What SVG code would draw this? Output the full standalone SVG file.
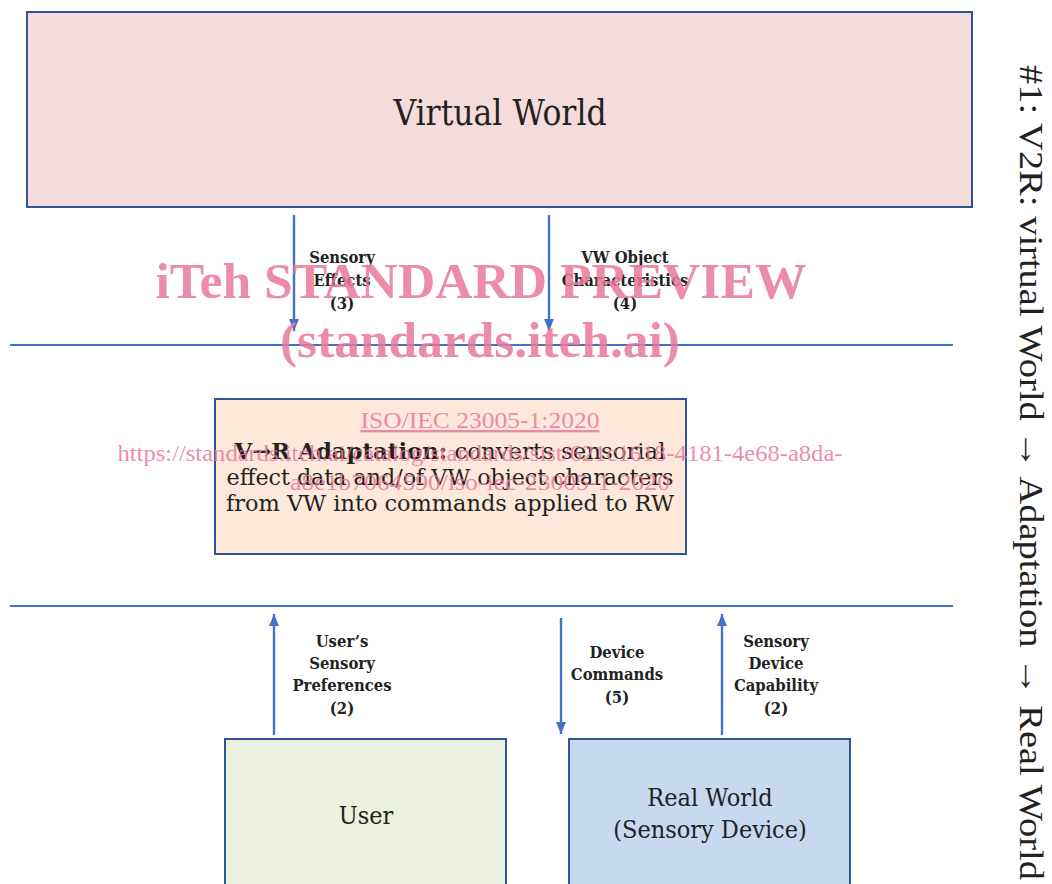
<svg xmlns="http://www.w3.org/2000/svg" width="1052" height="884" viewBox="0 0 1052 884">
  <style>
    .box { stroke: #2f5597; stroke-width: 2; }
    .wire { stroke: #4472c4; stroke-width: 2.4; fill: none; }
    .rule { stroke: #4472c4; stroke-width: 2.2; }
    .title { font-family: "DejaVu Serif", "Liberation Serif", serif; font-stretch: condensed; fill: #222; text-anchor: middle; }
    .lbl { font-family: "DejaVu Serif", "Liberation Serif", serif; font-stretch: condensed; font-weight: bold; font-size: 16.5px; fill: #222; text-anchor: middle; }
    .side { font-family: "Liberation Serif", serif; font-size: 34px; fill: #222; }
    .wm { font-family: "Liberation Serif", serif; fill: #e8789c; fill-opacity: 0.85; text-anchor: middle; }
  </style>
  <defs>
    <marker id="head" viewBox="0 0 12 10" refX="12" refY="5" markerWidth="12" markerHeight="10" orient="auto" markerUnits="userSpaceOnUse">
      <path d="M0,0 L12,5 L0,10 z" fill="#4472c4"/>
    </marker>
  </defs>

  <rect width="1052" height="884" fill="#ffffff"/>

  <!-- layer separators -->
  <line class="rule" x1="10" y1="345" x2="953" y2="345"/>
  <line class="rule" x1="10" y1="606" x2="953" y2="606"/>

  <g id="virtual-world">
    <rect class="box" x="27" y="12" width="945" height="195" fill="#f4dbdc"/>
    <text class="title" x="500" y="125" font-size="35">Virtual World</text>
  </g>

  <g id="adaptation">
    <rect class="box" x="215" y="399" width="471" height="155" fill="#fde8da"/>
    <text class="title" font-size="23" x="450" y="459" textLength="431" lengthAdjust="spacingAndGlyphs"><tspan font-weight="bold">V→R Adaptation:</tspan> converts sensorial</text>
    <text class="title" font-size="23" x="450" y="485" textLength="447" lengthAdjust="spacingAndGlyphs">effect data and/of VW object characters</text>
    <text class="title" font-size="23" x="450" y="511" textLength="448" lengthAdjust="spacingAndGlyphs">from VW into commands applied to RW</text>
  </g>

  <g id="user">
    <rect class="box" x="225" y="739" width="281" height="160" fill="#ebf1de"/>
    <text class="title" x="366" y="824" font-size="25">User</text>
  </g>

  <g id="real-world">
    <rect class="box" x="569" y="739" width="281" height="160" fill="#c6d9f1"/>
    <text class="title" x="710" y="806" font-size="25">Real World</text>
    <text class="title" x="710" y="838" font-size="25">(Sensory Device)</text>
  </g>

  <g id="connectors">
    <line class="wire" x1="294" y1="215" x2="294" y2="331" marker-end="url(#head)"/>
    <line class="wire" x1="549" y1="215" x2="549" y2="331" marker-end="url(#head)"/>
    <line class="wire" x1="274" y1="735" x2="274" y2="614" marker-end="url(#head)"/>
    <line class="wire" x1="561" y1="618" x2="561" y2="734" marker-end="url(#head)"/>
    <line class="wire" x1="722" y1="735" x2="722" y2="614" marker-end="url(#head)"/>

    <text class="lbl" x="342" y="263">Sensory</text>
    <text class="lbl" x="342" y="286">Effects</text>
    <text class="lbl" x="342" y="309">(3)</text>

    <text class="lbl" x="625" y="263">VW Object</text>
    <text class="lbl" x="625" y="286">Characteristics</text>
    <text class="lbl" x="625" y="309">(4)</text>

    <text class="lbl" x="342" y="647">User’s</text>
    <text class="lbl" x="342" y="669">Sensory</text>
    <text class="lbl" x="342" y="691">Preferences</text>
    <text class="lbl" x="342" y="714">(2)</text>

    <text class="lbl" x="617" y="658">Device</text>
    <text class="lbl" x="617" y="680">Commands</text>
    <text class="lbl" x="617" y="703">(5)</text>

    <text class="lbl" x="776" y="647">Sensory</text>
    <text class="lbl" x="776" y="669">Device</text>
    <text class="lbl" x="776" y="691">Capability</text>
    <text class="lbl" x="776" y="714">(2)</text>
  </g>

  <!-- vertical caption on the right -->
  <text class="side" transform="translate(1020,65) rotate(90)" textLength="815" lengthAdjust="spacingAndGlyphs">#1: V2R: virtual World → Adaptation → Real World</text>

  <!-- preview watermark -->
  <g id="watermark">
    <text class="wm" x="481" y="298" font-size="50" font-weight="bold" textLength="651" lengthAdjust="spacingAndGlyphs">iTeh STANDARD PREVIEW</text>
    <text class="wm" x="480" y="357" font-size="50" font-weight="bold" textLength="400" lengthAdjust="spacingAndGlyphs">(standards.iteh.ai)</text>
    <text class="wm" x="480" y="428" font-size="23" text-decoration="underline" textLength="239" lengthAdjust="spacingAndGlyphs">ISO/IEC 23005-1:2020</text>
    <text class="wm" x="480" y="461" font-size="23" textLength="725" lengthAdjust="spacingAndGlyphs">https://standards.iteh.ai/catalog/standards/sist/621c1618-4181-4e68-a8da-</text>
    <text class="wm" x="480" y="490" font-size="23" textLength="380" lengthAdjust="spacingAndGlyphs">a8e1b7064590/iso-iec-23005-1-2020</text>
  </g>
</svg>
